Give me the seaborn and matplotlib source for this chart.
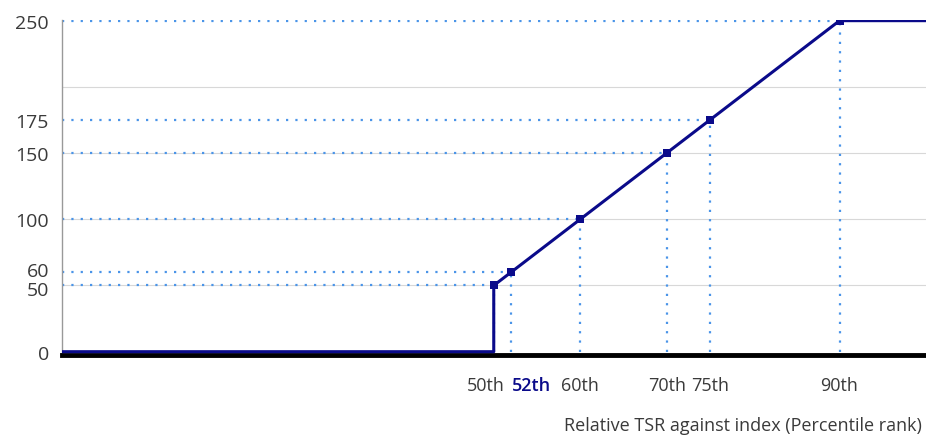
import matplotlib
matplotlib.use('Agg')
import matplotlib.pyplot as plt
import matplotlib.transforms as mtransforms
import numpy as np
import pandas as pd
import seaborn as sb

# vesting schedule
pct = [0, 50, 50, 52, 60, 70, 75, 90, 100]
vest = [0, 0, 50, 60, 100, 150, 175, 250, 250]
pt_x = [50, 52, 60, 70, 75, 90]
pt_y = [50, 60, 100, 150, 175, 250]
xticks = [50, 52, 60, 70, 75, 90]
xlabels = ['50th', '52th', '60th', '70th', '75th', '90th']
yticks = [0, 50, 60, 100, 150, 175, 250]

navy = '#0a0a8a'
dotblue = '#4a94e8'
txt = '#3a3a3a'

sb.set_style('white')
plt.rcParams['font.family'] = ['Open Sans', 'DejaVu Sans']

fig = plt.figure(figsize=(9.26, 4.39), dpi=100)
ax = fig.add_axes([61.5 / 926, 1 - 356 / 439, 1 - 61.5 / 926, (356 - 21) / 439])

# light grid
for g in [50, 100, 150, 200]:
    ax.axhline(g, color='#d8d8d8', lw=0.8, zorder=0)

# dotted guides
for x, y in zip(pt_x, pt_y):
    ax.hlines(y, 0, x, color=dotblue, lw=1.6, linestyles=(0, (1, 3.2)), zorder=1)
    ax.vlines(x, 0, y, color=dotblue, lw=1.6, linestyles=(0, (1, 3.2)), zorder=1)

df = pd.DataFrame({'pct': pct, 'vest': vest})
sb.lineplot(data=df, x='pct', y='vest', estimator=None, sort=False,
            color=navy, lw=2.2, ax=ax, zorder=3)
sb.scatterplot(x=pt_x, y=pt_y, marker='s', s=40, color=navy,
               edgecolor=navy, linewidth=0, ax=ax, zorder=4)

ax.set_xlim(0, 100)
ax.set_ylim(-2.5, 250.5)
ax.set_xlabel('')
ax.set_ylabel('')

ax.set_yticks(yticks)
ax.set_yticklabels([str(v) for v in yticks], fontsize=14, color=txt)
ax.tick_params(axis='y', length=0, pad=9)
ylbls = ax.get_yticklabels()
ylbls[1].set_transform(ylbls[1].get_transform() + mtransforms.ScaledTranslation(0, -3 / 100, fig.dpi_scale_trans))
ylbls[2].set_transform(ylbls[2].get_transform() + mtransforms.ScaledTranslation(0, 3 / 100, fig.dpi_scale_trans))

ax.set_xticks(xticks)
ax.set_xticklabels(xlabels, fontsize=13, color=txt)
ax.tick_params(axis='x', length=7, width=1, color='#999999', pad=8)
ticks = ax.xaxis.get_major_ticks()
ticks[1].tick1line.set_visible(False)
lbls = ax.get_xticklabels()
lbls[1].set_color(navy)
lbls[1].set_fontweight('semibold')
lbls[0].set_transform(lbls[0].get_transform() + mtransforms.ScaledTranslation(-8 / 100, 0, fig.dpi_scale_trans))
lbls[1].set_transform(lbls[1].get_transform() + mtransforms.ScaledTranslation(20 / 100, 0, fig.dpi_scale_trans))

for s in ['top', 'right']:
    ax.spines[s].set_visible(False)
ax.spines['left'].set_color('#999999')
ax.spines['left'].set_linewidth(1)
ax.spines['bottom'].set_color('black')
ax.spines['bottom'].set_linewidth(3.5)

fig.text(0.996, 0.008, 'Relative TSR against index (Percentile rank)',
         ha='right', va='bottom', fontsize=13, color=txt)

fig.savefig('out.png', dpi=100)
